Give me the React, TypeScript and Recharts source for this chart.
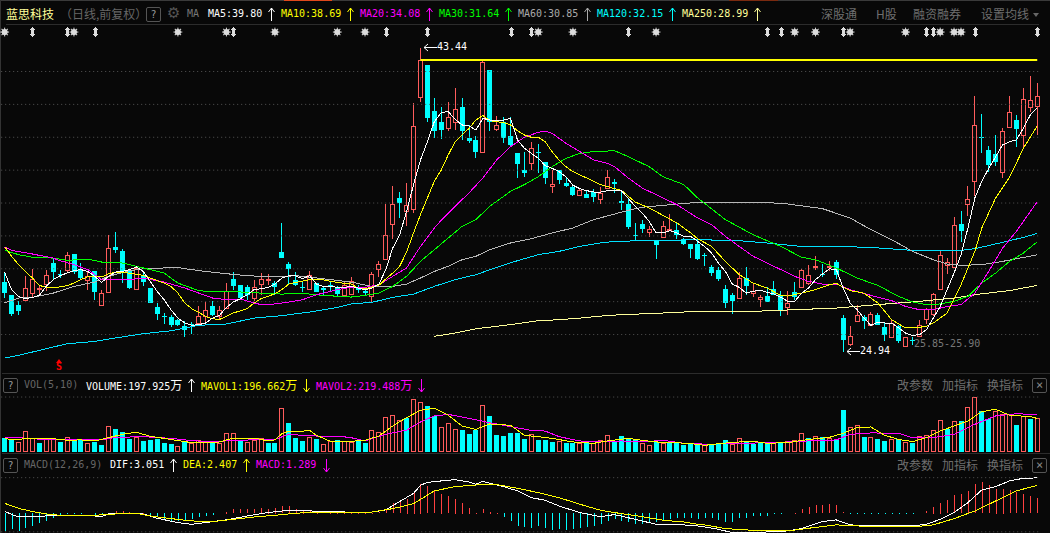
import { Bar, ComposedChart, Line, ReferenceLine, XAxis, YAxis } from "recharts";

// K线: [open, high, low, close]
const candles = [
  [29.17,29.78,28.22,28.52],[28.40,28.42,27.15,27.27],[27.80,28.02,27.21,27.43],[28.08,29.54,28.04,28.81],[28.55,29.99,28.28,29.36],
  [28.80,28.99,28.38,28.83],[29.09,29.95,28.63,29.64],[30.33,30.65,29.34,29.82],[29.71,29.95,29.44,29.67],[29.95,31.02,29.74,30.82],
  [30.90,30.92,29.70,29.78],[29.95,30.35,29.34,29.44],[29.34,29.84,28.73,29.54],[29.84,29.86,28.10,28.59],[27.77,28.73,27.75,28.52],
  [28.59,32.03,28.52,31.24],[31.32,32.22,30.96,31.14],[31.06,31.20,29.13,29.84],[29.88,29.99,28.77,28.83],[28.77,30.11,28.73,30.05],
  [29.58,29.74,28.93,29.19],[28.83,28.85,27.92,27.94],[27.67,27.94,26.90,27.25],[27.12,27.31,26.64,27.04],[27.06,27.21,26.46,26.56],
  [26.86,26.94,26.54,26.58],[26.52,26.80,25.85,26.27],[26.64,26.76,26.03,26.60],[26.72,27.71,26.68,27.12],[27.10,27.98,26.66,27.47],
  [27.73,28.06,27.15,27.17],[27.12,27.71,26.96,27.47],[27.63,29.11,27.57,28.63],[29.36,29.78,28.73,28.95],[29.01,29.03,28.18,28.22],
  [28.89,29.03,28.12,28.38],[28.22,29.32,28.02,28.87],[29.09,29.74,28.42,29.38],[29.32,29.68,29.03,29.36],[29.13,29.28,28.38,28.89],
  [31.02,32.78,30.63,30.65],[30.29,30.41,29.03,29.99],[29.30,29.80,28.97,28.99],[28.89,29.23,28.59,28.81],[28.79,29.84,28.73,29.64],
  [29.11,29.13,28.57,28.59],[28.81,28.93,28.42,28.69],[28.99,29.19,28.67,28.95],[28.81,28.93,28.32,28.44],[28.42,29.23,28.38,28.99],
  [28.48,29.48,28.46,29.23],[28.89,28.99,28.52,28.69],[28.63,28.83,28.38,28.52],[28.32,29.78,27.98,29.66],[30.00,30.45,29.48,30.27],
  [30.61,33.94,30.59,32.03],[32.74,35.02,31.81,33.94],[34.30,34.67,33.09,33.98],[33.49,35.20,32.62,33.90],[33.66,40.06,33.39,38.66],
  [40.47,43.44,40.17,42.68],[42.40,42.42,38.91,39.19],[39.60,40.37,37.94,38.38],[38.95,39.82,37.92,38.46],[38.58,40.13,38.40,39.21],
  [38.95,40.98,38.44,39.70],[39.82,40.37,37.84,38.38],[37.96,38.75,37.65,37.77],[37.84,38.08,36.76,37.13],[37.13,42.62,37.11,42.60],
  [42.10,42.12,38.38,38.95],[38.52,39.30,38.38,38.75],[38.95,39.26,37.63,37.98],[38.08,39.26,37.39,37.51],[37.02,37.04,35.50,36.37],
  [36.01,37.13,35.56,35.81],[36.41,37.70,36.01,37.33],[37.10,37.59,35.81,37.02],[36.47,36.49,35.16,35.50],[35.02,36.00,34.61,35.18],
  [36.00,36.02,35.16,35.42],[35.22,35.50,34.95,35.06],[34.97,35.12,34.41,34.51],[34.47,34.85,34.43,34.79],[34.55,34.75,34.29,34.31],
  [34.69,34.87,34.06,34.37],[34.27,34.95,33.96,34.61],[34.91,36.00,34.89,35.60],[35.28,35.46,34.63,35.18],[34.10,34.79,33.60,33.98],
  [33.94,34.31,32.42,32.52],[32.03,32.78,31.67,31.99],[32.72,32.95,32.18,32.42],[32.22,32.62,31.93,32.42],[31.71,31.73,30.59,31.47],
  [31.95,32.89,31.93,32.58],[32.40,33.33,32.38,32.44],[32.34,32.78,31.81,32.07],[31.77,31.87,31.47,31.53],[31.51,31.53,30.65,31.22],
  [31.48,31.77,30.55,30.59],[30.85,30.97,30.19,30.79],[30.11,30.21,29.58,29.74],[29.90,30.09,29.23,29.38],[28.79,28.99,27.61,27.92],
  [28.42,28.52,27.27,28.02],[28.24,29.78,28.22,29.44],[29.44,30.11,28.38,28.93],[28.52,29.09,28.28,28.67],[28.18,28.38,27.67,28.28],
  [28.32,28.87,27.96,27.98],[28.75,29.23,28.38,28.42],[28.38,28.63,27.15,27.47],[27.69,28.63,27.21,27.92],[28.59,29.17,28.12,28.28],
  [28.89,29.99,28.85,29.95],[29.13,30.25,28.99,29.64],[30.09,30.76,29.90,30.15],[29.71,30.29,29.48,29.66],[30.11,30.45,29.84,30.17],
  [30.39,30.55,29.40,29.64],[27.00,27.17,24.94,25.69],[25.42,26.50,25.32,25.93],[26.84,27.77,26.80,27.17],[27.04,27.21,26.35,26.84],
  [26.58,27.35,26.54,27.25],[27.17,27.31,26.56,26.60],[26.46,26.76,25.62,25.99],[25.87,26.90,25.85,26.68],[26.54,26.60,25.48,25.62],
  [25.32,25.87,25.30,25.83],[25.65,25.83,25.38,25.60],[25.89,26.86,25.85,26.60],[26.96,27.59,26.64,27.57],[27.25,28.50,27.13,28.44],
  [28.79,31.06,28.77,30.82],[30.25,30.65,29.68,30.41],[30.09,33.13,30.05,32.69],[32.72,33.53,31.63,32.32],[33.96,35.02,33.19,34.22],
  [35.32,40.51,34.41,38.73],[38.02,39.42,37.03,37.98],[37.23,37.47,35.90,36.33],[36.98,38.14,36.23,36.49],[35.87,38.55,35.50,38.40],
  [38.60,40.51,38.58,39.52],[39.05,39.36,37.43,38.52],[38.12,40.98,37.43,40.31],[39.82,41.73,39.56,40.25],[39.88,41.28,38.14,40.49],
];

const ma5 = [
  29.78,28.73,28.32,28.18,28.26,28.38,28.93,29.34,29.58,29.74,29.88,29.95,29.84,29.54,29.17,29.54,29.80,29.84,29.95,30.11,
  29.84,29.23,28.63,28.12,27.51,27.00,26.70,26.56,26.60,26.70,27.00,27.17,27.65,27.98,28.18,28.42,28.73,28.79,28.87,29.07,
  29.44,29.58,29.56,29.40,29.58,29.07,28.93,28.93,28.87,28.87,28.93,28.83,28.73,28.83,29.07,29.95,31.26,32.07,33.49,35.12,
  36.62,37.73,38.95,39.50,39.56,39.09,38.75,38.69,38.44,39.15,39.05,39.01,39.05,39.15,37.84,37.33,37.02,36.72,36.27,36.11,
  35.91,35.60,35.08,34.87,34.75,34.67,34.67,34.75,34.79,34.75,34.27,33.80,33.39,32.89,32.18,32.18,32.32,32.18,31.97,31.97,
  31.67,31.36,30.96,30.35,29.84,29.07,28.87,28.52,28.63,28.71,28.57,28.46,28.26,28.02,28.02,28.52,28.83,29.34,29.68,30.00,
  29.95,28.83,27.92,27.51,27.00,26.56,26.76,26.70,26.70,26.40,26.09,25.95,25.99,26.29,27.00,27.71,28.73,29.74,30.85,32.48,
  34.31,35.32,36.11,36.82,37.53,37.73,37.84,38.54,39.36,39.80,
];

// 其余均线读取的折点: [index, value]
const ma10 = [[0,31.36],[1,30.76],[2,30.25],[3,29.84],[4,29.44],[5,28.99],[6,28.87],[7,28.83],[9,28.97],[10,29.13],[11,29.34],[12,29.52],[13,29.52],[14,29.50],[15,29.70],[16,29.78],[18,29.74],[20,29.60],[21,29.44],[23,29.13],[24,28.93],[25,28.52],[26,27.92],[27,27.57],[28,27.35],[29,27.10],[30,26.96],[31,26.92],[32,27.10],[33,27.31],[35,27.57],[36,27.92],[37,28.18],[39,28.48],[40,28.73],[41,29.07],[42,29.17],[44,29.34],[46,29.32],[48,29.17],[50,29.07],[51,28.83],[52,28.79],[54,28.99],[55,29.38],[56,29.74],[57,30.15],[58,31.02],[59,32.18],[60,33.29],[61,34.31],[62,35.32],[63,36.01],[64,36.92],[65,37.73],[66,38.14],[67,38.54],[68,39.05],[69,39.32],[70,39.01],[72,38.89],[73,38.75],[74,38.40],[75,38.14],[76,38.00],[77,38.00],[78,37.73],[79,37.12],[80,36.62],[81,36.21],[82,35.91],[84,35.52],[86,35.12],[88,34.87],[89,34.77],[90,34.41],[91,34.06],[93,33.70],[95,33.25],[97,32.79],[99,32.18],[100,31.83],[102,31.36],[104,30.45],[106,29.64],[108,29.13],[110,28.83],[112,28.38],[113,28.34],[115,28.52],[117,28.73],[119,29.03],[120,29.11],[122,28.67],[124,28.52],[126,27.92],[128,26.90],[130,26.40],[132,26.44],[133,26.50],[134,26.70],[136,27.31],[138,29.03],[140,31.06],[141,32.48],[143,34.31],[145,35.56],[147,37.33],[149,38.69]];
const ma20 = [[0,31.32],[1,31.12],[4,30.90],[7,30.65],[8,30.49],[10,30.25],[12,29.95],[14,29.34],[16,29.34],[18,29.34],[20,29.44],[23,29.19],[26,28.83],[28,28.52],[30,28.22],[32,28.12],[34,28.16],[36,27.92],[37,27.82],[39,27.86],[41,27.98],[43,28.12],[45,28.42],[48,28.73],[50,28.87],[52,28.87],[54,29.03],[56,29.54],[58,30.05],[60,31.36],[62,32.48],[63,32.95],[65,33.80],[67,34.61],[69,35.52],[71,36.62],[73,37.43],[75,38.00],[77,38.30],[78,38.38],[79,38.24],[81,37.63],[83,37.13],[85,36.62],[87,36.41],[88,36.21],[90,35.52],[92,34.91],[95,34.31],[97,33.90],[100,33.09],[102,32.69],[104,31.97],[106,31.36],[108,30.76],[110,30.35],[112,29.95],[114,29.54],[116,29.23],[118,29.07],[120,29.07],[122,28.73],[125,28.38],[128,28.06],[130,27.71],[132,27.51],[134,27.51],[136,27.71],[138,27.82],[140,28.52],[142,29.84],[144,31.26],[146,32.28],[149,34.08]];
const ma30 = [[0,31.12],[2,30.86],[4,30.70],[7,30.65],[9,30.51],[12,30.59],[14,30.41],[17,30.35],[20,30.05],[23,29.74],[25,29.13],[28,28.67],[30,28.59],[34,28.59],[37,28.52],[40,28.46],[43,28.50],[46,28.38],[50,28.28],[52,28.38],[54,28.52],[56,28.93],[58,29.54],[60,30.45],[62,31.16],[64,31.87],[66,32.58],[68,32.99],[70,33.80],[73,34.71],[75,35.12],[77,35.60],[79,36.21],[81,36.72],[83,37.02],[85,37.13],[88,37.18],[90,36.82],[93,36.21],[95,35.60],[98,35.12],[100,34.31],[104,32.99],[108,32.07],[112,31.36],[115,30.70],[117,30.55],[120,30.05],[123,29.44],[126,28.99],[129,28.32],[131,27.98],[133,27.82],[135,27.86],[137,28.02],[139,28.32],[141,29.13],[143,29.74],[145,30.45],[147,30.96],[149,31.64]];
const ma60 = [[0,27.92],[2,28.22],[4,28.26],[7,28.52],[10,28.93],[13,29.19],[15,29.54],[18,29.88],[20,30.00],[23,30.05],[24,30.09],[25,30.09],[26,30.00],[29,29.84],[32,29.70],[35,29.58],[39,29.50],[42,29.58],[45,29.44],[50,29.19],[53,28.93],[56,28.93],[58,29.07],[60,29.44],[62,29.84],[64,30.15],[66,30.55],[68,30.76],[70,31.16],[73,31.57],[76,31.83],[79,32.18],[82,32.48],[85,32.99],[88,33.33],[90,33.56],[92,33.74],[95,33.86],[100,34.04],[109,34.06],[113,33.94],[118,33.66],[122,33.09],[125,32.38],[128,31.77],[131,31.06],[134,30.55],[136,30.29],[138,30.21],[141,30.25],[144,30.45],[149,30.85]];
const ma120 = [[0,24.57],[2,24.73],[6,25.14],[9,25.44],[13,25.58],[16,25.79],[20,26.05],[24,26.23],[28,26.56],[32,26.64],[36,27.00],[40,27.15],[44,27.37],[48,27.65],[50,27.86],[53,27.96],[56,28.26],[59,28.46],[62,28.93],[65,29.34],[68,29.64],[71,30.09],[74,30.49],[77,30.86],[80,31.06],[83,31.36],[86,31.57],[88,31.67],[100,31.77],[106,31.71],[110,31.57],[115,31.36],[120,31.36],[125,31.30],[131,31.12],[138,31.12],[140,31.22],[143,31.51],[147,31.91],[149,32.15]];
const ma250 = [[62,25.89],[65,26.09],[68,26.35],[71,26.50],[74,26.66],[77,26.84],[80,26.90],[83,27.00],[86,27.12],[89,27.21],[93,27.27],[97,27.35],[100,27.41],[108,27.41],[114,27.51],[120,27.61],[126,27.82],[132,28.02],[137,28.22],[141,28.48],[145,28.67],[149,28.99]];

// 成交量(万) 及红绿方向
const volume = [
  84,74,59,122,84,51,74,74,59,88,71,71,51,59,41,151,135,118,78,88,65,71,78,51,47,33,59,51,69,59,51,55,110,110,71,59,71,80,51,55,257,171,82,65,88,74,47,65,71,65,
  59,65,53,129,116,204,216,188,200,312,292,270,212,145,169,135,129,108,131,274,212,100,94,112,114,76,104,71,71,59,65,53,55,51,51,51,69,98,59,94,76,69,51,39,61,55,59,51,41,45,45,
  39,45,45,71,45,80,63,47,51,47,51,51,65,71,112,80,94,86,82,74,247,145,157,88,88,76,65,74,74,59,53,92,100,129,186,133,180,182,265,321,239,192,241,221,221,159,212,196,198,
];
const volumeSide =
  "ccrrrcrrcrccrccrcccrcccccrcrrrcrrrcrrrccrcccrcrrcr" +
  "rccrrrrrcrrccrrrcccrccccccrcccrccrcrrrccccrrcrccccc" +
  "rcccrrccccrcrrrcrcrccrrcrccrcrcrrrrcrcrrccrrrcrcr";
const mavol1 = [[0,78],[2,71],[3,82],[4,82],[5,78],[7,78],[9,69],[11,71],[13,65],[15,84],[17,104],[19,116],[21,92],[23,80],[25,67],[27,55],[29,55],[31,59],[33,82],[36,82],[38,65],[39,71],[40,108],[41,122],[43,122],[44,127],[45,98],[47,63],[50,63],[52,69],[54,94],[56,153],[58,202],[60,245],[62,257],[64,216],[66,153],[68,133],[70,165],[73,157],[75,98],[77,90],[79,80],[82,59],[85,51],[87,65],[90,80],[92,69],[94,59],[97,55],[100,45],[101,39],[103,49],[106,59],[108,63],[110,51],[113,55],[116,74],[119,86],[121,110],[123,143],[125,147],[127,98],[129,74],[131,61],[133,84],[135,123],[137,153],[139,182],[141,237],[143,251],[145,216],[148,208],[149,197]];
const mavol2 = [[0,88],[2,84],[4,78],[7,71],[11,71],[14,71],[16,86],[20,90],[24,80],[27,67],[30,59],[33,69],[36,71],[39,74],[41,104],[43,98],[45,94],[48,94],[50,84],[52,65],[55,104],[58,129],[60,176],[62,212],[64,221],[67,198],[70,172],[73,149],[76,127],[78,123],[80,90],[83,65],[86,59],[89,65],[92,59],[95,69],[98,51],[100,51],[101,45],[106,51],[111,55],[116,65],[120,71],[122,104],[125,112],[129,110],[131,84],[134,84],[137,104],[140,163],[143,212],[146,225],[149,219]];

const macdHist = [
  -1.52,-1.38,-1.58,-1.32,-1.09,-.86,-.66,-.46,-.29,-.06,-.02,-.06,0,-.17,-.17,-.06,.17,.23,.09,.06,.02,-.29,-.37,-.52,-.66,-.66,-.6,-.52,-.37,-.23,-.14,0,.14,.37,.37,.37,.37,.46,.4,.49,.63,.63,.4,.32,.29,.14,.09,.06,.06,.02,
  .02,.02,.02,.02,.11,.29,.86,1.06,1.26,1.78,2.56,2.36,2.01,1.70,1.49,1.26,.92,.49,.02,.34,.14,.03,-.37,-.66,-1.09,-1.18,-1.29,-1.15,-1.29,-1.44,-1.38,-1.44,-1.38,-1.29,-1.21,-1.09,-.95,-.69,-.52,-.66,-.80,-.95,-.95,-.80,-.80,-.72,-.52,-.43,-.43,-.43,-.52,
  -.46,-.46,-.57,-.75,-.75,-.46,-.40,-.23,-.23,-.23,-.06,-.03,0,.02,.34,.57,.72,.72,.78,.72,.11,-.09,-.09,-.09,-.09,-.09,-.09,-.09,-.11,-.11,-.11,0,.2,.57,.92,1.15,1.55,1.67,1.93,2.5,2.7,2.41,2.13,2.13,1.98,1.84,1.67,1.49,1.29,
];
const dif = [[0,.17],[1,-.09],[2,-.32],[4,-.29],[6,-.23],[8,-.17],[11,-.17],[13,-.23],[14,-.29],[15,-.06],[17,0],[20,-.06],[22,-.43],[25,-.80],[27,-.95],[30,-.72],[32,-.57],[35,-.23],[38,.06],[41,.26],[43,.26],[45,.17],[48,.17],[50,.06],[53,.11],[55,.29],[57,1.01],[59,1.72],[60,2.41],[61,2.67],[63,2.79],[65,2.90],[67,2.70],[68,2.50],[69,2.76],[70,2.59],[72,2.30],[74,1.93],[76,1.35],[78,1.12],[80,.63],[83,.06],[86,-.29],[88,-.11],[91,-.52],[94,-.95],[98,-1.00],[100,-1.09],[101,-1.18],[103,-1.38],[105,-1.67],[108,-1.67],[113,-1.52],[115,-1.32],[118,-.72],[120,-.57],[122,-1.00],[126,-1.09],[131,-1.09],[133,-.95],[135,-.52],[137,.06],[139,.92],[141,2.01],[143,2.30],[145,2.79],[147,3.02],[149,3.05]];
const dea = [[0,.86],[2,.43],[4,.14],[7,-.14],[9,-.17],[13,-.17],[16,-.06],[19,0],[21,-.23],[24,-.46],[27,-.66],[30,-.72],[33,-.52],[36,-.32],[39,-.17],[42,0],[45,.11],[48,.06],[50,.11],[53,.11],[56,.40],[59,.83],[62,1.93],[65,2.30],[68,2.44],[71,2.47],[74,2.16],[77,1.78],[80,1.35],[83,.78],[86,.26],[89,-.03],[92,-.29],[95,-.60],[98,-.75],[100,-.95],[101,-1.00],[104,-1.32],[108,-1.47],[113,-1.52],[116,-1.29],[120,-1.00],[123,-1.09],[127,-1.18],[131,-1.18],[134,-1.00],[137,-.46],[140,.20],[143,1.06],[146,1.93],[149,2.41]];

// 顶部信息地雷标记
const starMarks = [0,10,25,32,39,48,52,77,82,94,114,117,122,130,135,137,138];
const tipMarks = [4,9,13,33,55,61,73,76,90,110,112,121,133,134,140,149];
const priceGrid = [26,28,30,32,34,36,38,40,42];
const pressureFrom = 60;
const pressurePrice = 42.7;

const UP = "#ff5c5c";
const DOWN = "#00ffff";
const BG = "#080808";
const mono = "'DejaVu Sans Mono', monospace";
const cjk = "'Noto Sans CJK SC', sans-serif";

function sparse(knots: number[][]) {
  const out: (number | null)[] = candles.map(() => null);
  knots.forEach(([i, v]) => (out[i] = v));
  return out;
}

const s10 = sparse(ma10), s20 = sparse(ma20), s30 = sparse(ma30), s60 = sparse(ma60), s120 = sparse(ma120), s250 = sparse(ma250);
const sv1 = sparse(mavol1), sv2 = sparse(mavol2), sdif = sparse(dif), sdea = sparse(dea);

const rows = candles.map(([open, high, low, close], i) => ({
  i, open, high, low, close,
  ma5: ma5[i], ma10: s10[i], ma20: s20[i], ma30: s30[i], ma60: s60[i], ma120: s120[i], ma250: s250[i],
  star: starMarks.includes(i) ? 44.4 : null,
  tip: tipMarks.includes(i) ? 44.4 : null,
  vol: volume[i], side: volumeSide[i], mavol1: sv1[i], mavol2: sv2[i],
  hist: macdHist[i], dif: sdif[i], dea: sdea[i],
}));

// 蜡烛: 影线和实体都从 Bar 给出的高低点像素换算
function Candle(props: any) {
  const { x, y, width, height, payload } = props;
  const { open, high, low, close } = payload;
  const perPrice = height / (high - low);
  const n = Math.round(x + width / 2);
  const top = Math.round(y + (high - Math.max(open, close)) * perPrice);
  const bottom = Math.round(y + (high - Math.min(open, close)) * perPrice);
  const up = close >= open;
  const color = up ? UP : DOWN;
  return (
    <g shapeRendering="crispEdges">
      <line x1={n + 0.5} x2={n + 0.5} y1={y} y2={y + height} stroke={color} />
      {up ? (
        <rect x={n - 1.5} y={top + 0.5} width={4} height={Math.max(bottom - top, 1)} fill={BG} stroke={color} />
      ) : (
        <rect x={n - 2} y={top} width={5} height={Math.max(bottom - top, 1)} fill={color} />
      )}
    </g>
  );
}

function VolBar(props: any) {
  const { x, y, width, height, payload } = props;
  const up = payload.side === "r";
  const n = Math.round(x + width / 2);
  const top = Math.round(y);
  const h = Math.round(y + height) - top;
  return up ? (
    <rect shapeRendering="crispEdges" x={n - 1.5} y={top + 0.5} width={4} height={h - 1} fill={BG} stroke={UP} />
  ) : (
    <rect shapeRendering="crispEdges" x={n - 2} y={top} width={5} height={h} fill={DOWN} />
  );
}

// 负值柱子的 height 为负, y 在远端
function HistBar(props: any) {
  const { x, y, width, height, payload } = props;
  const n = Math.round(x + width / 2);
  if (!height) return <g />;
  const top = Math.min(y, y + height);
  return (
    <rect
      shapeRendering="crispEdges"
      x={n}
      y={Math.round(top)}
      width={1}
      height={Math.max(Math.round(Math.abs(height)), 1)}
      fill={payload.hist >= 0 ? "#ff4040" : DOWN}
    />
  );
}

function StarDot(props: any) {
  const { cx, cy, value, index } = props;
  if (value == null) return <g key={index} />;
  const spokes = [0, 45, 90, 135];
  return (
    <g key={index} stroke="#dcdcdc" fill="#dcdcdc">
      <circle cx={cx} cy={cy} r={2.6} />
      {spokes.map((a) => (
        <line key={a} x1={cx - 4.4} x2={cx + 4.4} y1={cy} y2={cy} transform={`rotate(${a} ${cx} ${cy})`} />
      ))}
    </g>
  );
}

function TipDot(props: any) {
  const { cx, cy, value, index } = props;
  if (value == null) return <g key={index} />;
  const x = Math.round(cx) + 0.5;
  return (
    <path
      key={index}
      fill="#dcdcdc"
      shapeRendering="crispEdges"
      d={`M${x} ${cy - 5}L${x + 3} ${cy - 2}H${x + 1.5}V${cy + 2}H${x + 3}L${x} ${cy + 5}L${x - 3} ${cy + 2}H${x - 1.5}V${cy - 2}H${x - 3}Z`}
    />
  );
}

function Txt({ x, y, c, font = mono, size = 10, children }: any) {
  return (
    <div
      style={{
        position: "absolute", left: x, top: y, color: c, fontFamily: font, fontSize: size,
        lineHeight: "14px", whiteSpace: "pre",
      }}
    >
      {children}
    </div>
  );
}

// 表头里的细长箭头
function Arrow({ x, y, c, down = false }: any) {
  const d = down ? "M3.5 0V13M0.5 9L3.5 13L6.5 9" : "M3.5 13V0M0.5 4L3.5 0L6.5 4";
  return (
    <svg style={{ position: "absolute", left: x, top: y }} width={7} height={14}>
      <path d={d} fill="none" stroke={c} />
    </svg>
  );
}

function LeftArrow({ x, y }: any) {
  return (
    <svg style={{ position: "absolute", left: x, top: y - 4 }} width={14} height={9}>
      <path d="M14 4.5H1M5 1L1 4.5L5 8" fill="none" stroke="#fff" />
    </svg>
  );
}

function Rule({ y, x = 2, w = 1048, c = "#2c2c2c" }: any) {
  return <div style={{ position: "absolute", left: x, top: y, width: w, height: 1, background: c }} />;
}

function HelpBox({ x, y }: any) {
  return (
    <div
      style={{
        position: "absolute", left: x, top: y, width: 13, height: 13, border: "1px solid #555", borderRadius: 2,
        color: "#999", fontFamily: mono, fontSize: 10, lineHeight: "13px", textAlign: "center",
      }}
    >
      ?
    </div>
  );
}

function PaneTools({ y }: any) {
  return (
    <>
      <Txt x={897} y={y} c="#6e6e6e" font={cjk} size={12}>改参数</Txt>
      <Txt x={942} y={y} c="#6e6e6e" font={cjk} size={12}>加指标</Txt>
      <Txt x={987} y={y} c="#6e6e6e" font={cjk} size={12}>换指标</Txt>
      <div
        style={{
          position: "absolute", left: 1032, top: y, width: 13, height: 13, border: "1px solid #555", borderRadius: 2,
          color: "#888", fontFamily: mono, fontSize: 12, lineHeight: "13px", textAlign: "center",
        }}
      >
        ×
      </div>
    </>
  );
}

const M = { left: 1.2, right: 9.3, top: 0, bottom: 0 };
const maLines: [string, string][] = [
  ["ma250", "#ffff99"], ["ma120", "#00e1ff"], ["ma60", "#b8b8b8"], ["ma30", "#00ff00"], ["ma20", "#ff00ff"], ["ma10", "#ffff00"], ["ma5", "#ffffff"],
];

export default function App() {
  return (
    <div style={{ position: "absolute", left: 0, top: 0, width: 1050, height: 533, background: BG, overflow: "hidden" }}>
      <Rule y={0} x={0} w={1050} c="#3a3a3a" />
      <Rule y={0} x={284} w={48} c="#e0481c" />
      <Rule y={0} x={729} w={49} c="#7a2a10" />
      <div style={{ position: "absolute", left: 0, top: 0, width: 1, height: 533, background: "#333" }} />
      <Rule y={24} x={6} w={1033} />
      <Rule y={373} x={2} w={1048} />
      <Rule y={453} x={2} w={1048} />

      {/* 主图 */}
      <div style={{ position: "absolute", left: 0, top: 0 }}>
        <ComposedChart width={1050} height={373} data={rows} margin={M} barCategoryGap={0}>
          <XAxis dataKey="i" hide />
          <YAxis hide domain={[23.66, 46.35]} allowDataOverflow />
          {priceGrid.map((p) => (
            <ReferenceLine key={p} y={p} stroke="#555" strokeDasharray="1 3" />
          ))}
          <Bar dataKey={(d: any) => [d.low, d.high]} barSize={6} shape={Candle} isAnimationActive={false} />
          <ReferenceLine
            segment={[{ x: pressureFrom, y: pressurePrice }, { x: 149, y: pressurePrice }]}
            stroke="#ffff00"
            strokeWidth={2}
          />
          {maLines.map(([key, color]) => (
            <Line key={key} dataKey={key} stroke={color} strokeWidth={1} shapeRendering="crispEdges" dot={false} connectNulls isAnimationActive={false} />
          ))}
          <Line dataKey="star" stroke="none" dot={StarDot} isAnimationActive={false} />
          <Line dataKey="tip" stroke="none" dot={TipDot} isAnimationActive={false} />
        </ComposedChart>
      </div>

      {/* 成交量 */}
      <div style={{ position: "absolute", left: 0, top: 380 }}>
        <ComposedChart width={1050} height={72} data={rows} margin={M} barCategoryGap={0}>
          <XAxis dataKey="i" hide />
          <YAxis hide domain={[0, 423]} allowDataOverflow />
          <ReferenceLine y={323} stroke="#555" strokeDasharray="1 3" />
          <Bar dataKey="vol" barSize={6} shape={VolBar} isAnimationActive={false} />
          <Line dataKey="mavol2" stroke="#ff00ff" shapeRendering="crispEdges" dot={false} connectNulls isAnimationActive={false} />
          <Line dataKey="mavol1" stroke="#ffff00" shapeRendering="crispEdges" dot={false} connectNulls isAnimationActive={false} />
        </ComposedChart>
      </div>

      {/* MACD */}
      <div style={{ position: "absolute", left: 0, top: 456 }}>
        <ComposedChart width={1050} height={77} data={rows} margin={M} barCategoryGap={0}>
          <XAxis dataKey="i" hide />
          <YAxis hide domain={[-1.7, 4.94]} allowDataOverflow />
          <ReferenceLine y={3.07} stroke="#555" strokeDasharray="1 3" />
          <ReferenceLine y={-1.6} stroke="#555" strokeDasharray="1 3" />
          <Bar dataKey="hist" barSize={1} shape={HistBar} isAnimationActive={false} />
          <Line dataKey="dif" stroke="#ffffff" shapeRendering="crispEdges" dot={false} connectNulls isAnimationActive={false} />
          <Line dataKey="dea" stroke="#ffff00" shapeRendering="crispEdges" dot={false} connectNulls isAnimationActive={false} />
        </ComposedChart>
      </div>

      {/* 表头 */}
      <Txt x={6} y={7} c="#ffff99" font={cjk} size={12}>蓝思科技</Txt>
      <Txt x={60} y={7} c="#666" font={cjk} size={12}>（日线,前复权）</Txt>
      <HelpBox x={146} y={7} />
      <Txt x={167} y={6} c="#555" font="'DejaVu Sans'" size={15}>⚙</Txt>
      <Txt x={187} y={7} c="#777">MA</Txt>
      <Txt x={208} y={7} c="#fff">MA5:39.80</Txt>
      <Arrow x={268} y={8} c="#fff" />
      <Txt x={281} y={7} c="#ff0">MA10:38.69</Txt>
      <Arrow x={347} y={8} c="#ff0" />
      <Txt x={360} y={7} c="#f0f">MA20:34.08</Txt>
      <Arrow x={426} y={8} c="#f0f" />
      <Txt x={439} y={7} c="#0f0">MA30:31.64</Txt>
      <Arrow x={505} y={8} c="#0f0" />
      <Txt x={518} y={7} c="#aaa">MA60:30.85</Txt>
      <Arrow x={584} y={8} c="#aaa" />
      <Txt x={597} y={7} c="#0ff">MA120:32.15</Txt>
      <Arrow x={669} y={8} c="#0ff" />
      <Txt x={682} y={7} c="#ffff99">MA250:28.99</Txt>
      <Arrow x={754} y={8} c="#ffff99" />
      <Txt x={821} y={7} c="#6e6e6e" font={cjk} size={12}>深股通</Txt>
      <Txt x={876} y={7} c="#6e6e6e" font={cjk} size={12}>H股</Txt>
      <Txt x={913} y={7} c="#6e6e6e" font={cjk} size={12}>融资融券</Txt>
      <Txt x={981} y={7} c="#6e6e6e" font={cjk} size={12}>设置均线</Txt>
      <div style={{ position: "absolute", left: 1033, top: 13, width: 0, height: 0, borderLeft: "3px solid transparent", borderRight: "3px solid transparent", borderTop: "4px solid #666" }} />

      {/* 标注 */}
      <LeftArrow x={423} y={47} />
      <Txt x={437} y={40} c="#fff">43.44</Txt>
      <LeftArrow x={846} y={351} />
      <Txt x={860} y={344} c="#fff">24.94</Txt>
      <Txt x={914} y={337} c="#777">25.85-25.90</Txt>
      <div style={{ position: "absolute", left: 56, top: 359, width: 0, height: 0, borderLeft: "3px solid transparent", borderRight: "3px solid transparent", borderBottom: "4px solid #f00" }} />
      <Txt x={56} y={360} c="#f00" size={10}><b>S</b></Txt>

      {/* VOL 表头 */}
      <HelpBox x={3} y={378} />
      <Txt x={24} y={378} c="#666">VOL(5,10)</Txt>
      <Txt x={86} y={378} c="#fff">VOLUME:197.925<span style={{ fontFamily: cjk, fontSize: 12 }}>万</span></Txt>
      <Arrow x={188} y={379} c="#fff" />
      <Txt x={201} y={378} c="#ff0">MAVOL1:196.662<span style={{ fontFamily: cjk, fontSize: 12 }}>万</span></Txt>
      <Arrow x={303} y={379} c="#ff0" down />
      <Txt x={316} y={378} c="#f0f">MAVOL2:219.488<span style={{ fontFamily: cjk, fontSize: 12 }}>万</span></Txt>
      <Arrow x={418} y={379} c="#f0f" down />
      <PaneTools y={378} />

      {/* MACD 表头 */}
      <HelpBox x={3} y={458} />
      <Txt x={24} y={458} c="#666">MACD(12,26,9)</Txt>
      <Txt x={110} y={458} c="#fff">DIF:3.051</Txt>
      <Arrow x={170} y={459} c="#fff" />
      <Txt x={183} y={458} c="#ff0">DEA:2.407</Txt>
      <Arrow x={243} y={459} c="#ff0" />
      <Txt x={256} y={458} c="#f0f">MACD:1.289</Txt>
      <Arrow x={323} y={459} c="#f0f" down />
      <PaneTools y={458} />
    </div>
  );
}
